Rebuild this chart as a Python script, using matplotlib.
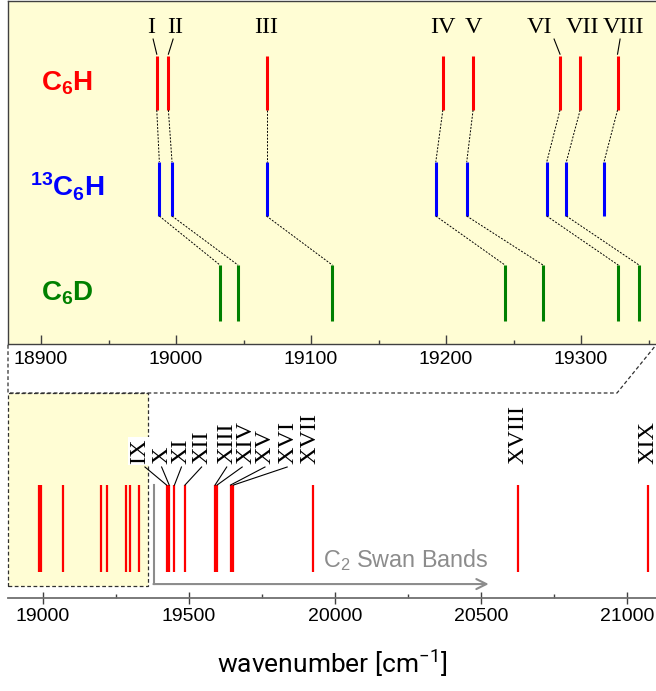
import numpy as np
import matplotlib
matplotlib.use('agg')
import matplotlib.pyplot as plt
from matplotlib.lines import Line2D
from matplotlib.patches import Rectangle

# band positions [cm-1]
c6h = [18985.7, 18994.3, 19067.0, 19197.6, 19220.0, 19284.4, 19299.3, 19327.0]
c13 = [18987.6, 18997.0, 19067.0, 19192.4, 19215.3, 19274.6, 19289.1, 19317.0]
c6d = [19032.6, 19045.9, 19115.8, 19243.7, 19271.9, 19327.6, 19343.0]

top_labels = ["I", "II", "III", "IV", "V", "VI", "VII", "VIII"]
top_label_x = [18981.3, 18999.3, 19067.0, 19197.6, 19220.0, 19268.9, 19300.7, 19331.1]
top_lead_x = [18983.0, 18997.8, None, None, None, 19280.0, None, 19328.9]

extra = [19423, 19432, 19450, 19486, 19589, 19596, 19642, 19652, 19926, 20628, 21072]
bot_labels = ["IX", "X", "XI", "XII", "XIII", "XIV", "XV", "XVI", "XVII", "XVIII", "XIX"]
bot_label_x = [19332, 19407, 19474, 19544, 19629, 19694, 19760, 19839, 19914, 20628, 21072]
bot_lead_x = [19349, 19406, 19474, 19543, 19629, 19682, 19760, 19836, None, None, None]

swan_start = 19380
swan_end = 20526

species = [r"$\mathregular{C_6H}$", r"$\mathregular{^{13}C_6H}$", r"$\mathregular{C_6D}$"]
colors = ["#ff0000", "#0000ff", "#008000"]

W, H = 656, 691
fig = plt.figure(figsize=(W / 100, H / 100), dpi=100)
plt.rcParams['font.family'] = 'Liberation Sans'

yellow = "#fffdd4"
spine_c = "#404040"

# ---------------- top (zoomed) panel ----------------
ax = fig.add_axes([8 / W, 1 - 344 / H, 1 - 8 / W, 343 / H])
ax.set_facecolor(yellow)
ax.set_xlim(18875.5, 19355.5)
ax.set_ylim(0, 1)
ax.spines['right'].set_visible(False)
for s in ['left', 'top', 'bottom']:
    ax.spines[s].set_color(spine_c)
    ax.spines[s].set_linewidth(1.0)
ax.set_yticks([])
ax.set_xticks([18900, 19000, 19100, 19200, 19300])
ax.set_xticks(np.arange(18900, 19360, 50), minor=True)
ax.tick_params(axis='x', which='major', direction='in', length=6.5, width=1,
               color=spine_c, labelsize=14, pad=5)
ax.tick_params(axis='x', which='minor', direction='in', length=3, width=1, color=spine_c)

rows = [(0.682, 0.840), (0.373, 0.531), (0.067, 0.230)]
for pos, (y0, y1), c in zip([c6h, c13, c6d], rows, colors):
    ax.vlines(pos, y0, y1, colors=c, lw=2.2)

for a, b in zip(c6h, c13):
    ax.plot([a, b], [rows[0][0], rows[1][1]], ls=(0, (2, 1.5)), color='k', lw=0.7)
for a, b in zip(c13, c6d):
    ax.plot([a, b], [rows[1][0], rows[2][1]], ls=(0, (2, 1.5)), color='k', lw=0.7)

for lab, lx, ld, x in zip(top_labels, top_label_x, top_lead_x, c6h):
    ax.text(lx, 0.922, lab, ha='center', va='center', fontsize=17.5,
            family='Liberation Serif')
    if ld is not None:
        ax.plot([ld, x], [0.889, 0.845], color='k', lw=0.8)

sp_y = [0.738, 0.429, 0.128]
for lab, y, c in zip(species, sp_y, colors):
    ax.text(18919.5, y, lab, ha='center', va='baseline', fontsize=20,
            fontweight='bold', color=c)

# ---------------- bottom (overview) panel ----------------
bx = fig.add_axes([8 / W, 1 - 598 / H, 1 - 8 / W, 205 / H])
bx.set_xlim(18880, 21099)
bx.set_ylim(0, 1)
for s in ['left', 'top', 'right']:
    bx.spines[s].set_visible(False)
bx.spines['bottom'].set_color("#707070")
bx.spines['bottom'].set_linewidth(1.3)
bx.set_yticks([])
bx.set_xticks([19000, 19500, 20000, 20500, 21000])
bx.set_xticks(np.arange(19000, 21100, 250), minor=True)
bx.tick_params(axis='x', which='major', direction='inout', length=8.5, width=1,
               color=spine_c, labelsize=14, pad=3)
bx.tick_params(axis='x', which='minor', direction='in', length=3, width=1, color=spine_c)

bx.add_patch(Rectangle((18880, 0.0585), 19359 - 18880, 1 - 0.0585, facecolor=yellow,
                       edgecolor='#303030', ls=(0, (3, 2)), lw=0.9, clip_on=False,
                       zorder=0))

bx.vlines(c6h + extra, 0.127, 0.551, colors='#ff0000', lw=1.6)

for lab, lx, ld, x in zip(bot_labels, bot_label_x, bot_lead_x, extra):
    kw = {}
    if lab == "IX":
        kw['bbox'] = dict(facecolor='white', edgecolor='none', pad=1)
    bx.text(lx, 0.654, lab, ha='center', va='bottom', rotation=90, fontsize=17.5,
            family='Liberation Serif', **kw)
    if ld is not None:
        bx.plot([ld, x], [0.639, 0.551], color='k', lw=0.8)

gray = "#8c8c8c"
bx.plot([swan_start, swan_start], [0.551, 0.068], color=gray, lw=1.5)
bx.annotate("", xy=(swan_end, 0.068), xytext=(swan_start - 2, 0.068),
            arrowprops=dict(arrowstyle='->', color=gray, lw=1.5,
                            mutation_scale=18, shrinkA=0, shrinkB=0))
bx.text(swan_end, 0.185, r"$\mathregular{C_2}$ Swan Bands", ha='right', va='center',
        fontsize=16.8, color=gray)

# dashed zoom outline between panels
fig.add_artist(Line2D([8 / W, 8 / W, 617 / W, 656 / W],
                      [1 - 345 / H, 1 - 393 / H, 1 - 393 / H, 1 - 345 / H],
                      transform=fig.transFigure, color='#303030',
                      ls=(0, (3, 2)), lw=0.9))

fig.text(332 / W, 1 - 663 / H, r"wavenumber [cm$\mathregular{^{-1}}$]",
         ha='center', va='center', fontsize=19, family='Roboto')

fig.savefig("out.png", dpi=100)
